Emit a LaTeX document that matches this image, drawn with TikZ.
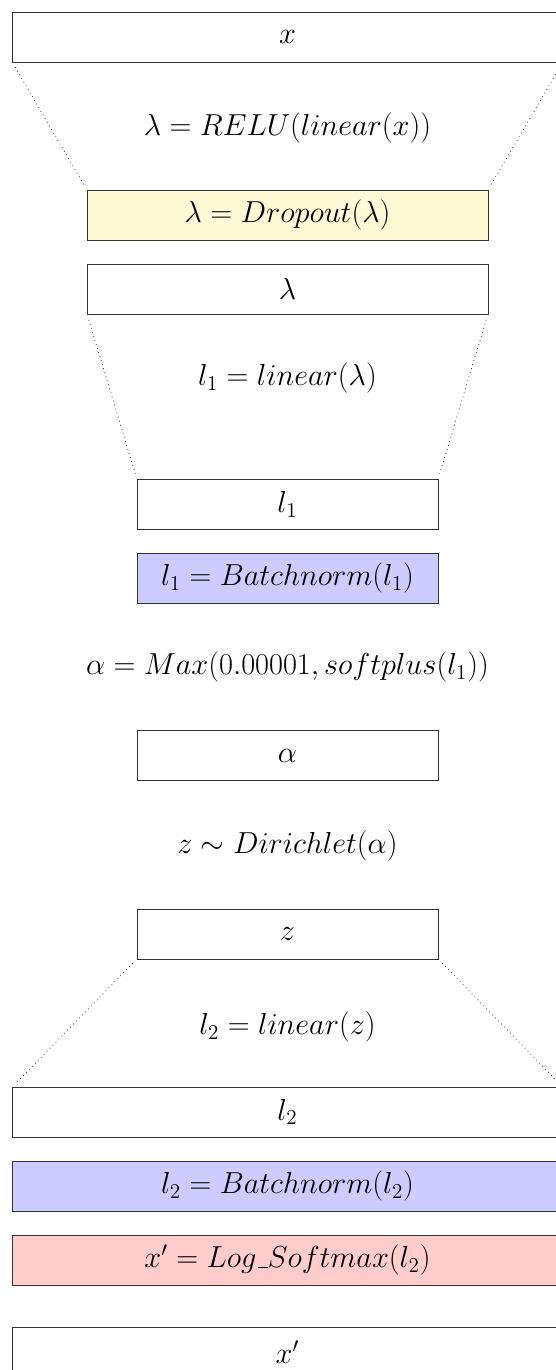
\documentclass[tikz,border=0pt]{standalone}
\usepackage{amsmath}
\definecolor{dropfill}{RGB}{255,249,214}
\definecolor{bnfill}{RGB}{204,204,255}
\definecolor{smfill}{RGB}{255,204,204}
\newcommand{\myus}{\kern.06em\vbox{\hrule width.3em}}
\begin{document}
\begin{tikzpicture}[x=0.02cm,y=-0.02cm,
  every node/.style={font=\fontsize{17.28}{21}\selectfont},
  layer/.style={draw=black!80, line width=0.5pt, minimum height=1cm, inner sep=0pt, outer sep=0pt},
  wide/.style={layer, minimum width=11.02cm},
  mid/.style={layer, minimum width=8.02cm},
  narrow/.style={layer, minimum width=6.02cm},
  op/.style={inner sep=0pt},
  fan/.style={dotted, line width=0.4pt, shorten <=3.5pt, shorten >=3.5pt}]
\useasboundingbox (0,0) rectangle (555,1370);
\node[wide] (x) at (287.5,37) {$x$};
\node[op] (relu) at (287.5,128) {$\lambda = RELU(linear(x))$};
\node[mid, fill=dropfill] (drop) at (287.5,215) {$\lambda = Dropout(\lambda)$};
\node[mid] (lam) at (287.5,289) {$\lambda$};
\node[op] (lin1) at (287.5,378) {$l_1 = linear(\lambda)$};
\node[narrow] (l1) at (287.5,504.5) {$l_1$};
\node[narrow, fill=bnfill] (bn1) at (287.5,578) {$l_1 = Batchnorm(l_1)$};
\node[op] (alphaop) at (287.5,667) {$\alpha = Max(0.00001, softplus(l_1))$};
\node[narrow] (alpha) at (287.5,755.5) {$\alpha$};
\node[op] (dir) at (287.5,846) {$z \sim Dirichlet(\alpha)$};
\node[narrow] (z) at (287.5,934) {$z$};
\node[op] (lin2) at (287.5,1027) {$l_2 = linear(z)$};
\node[wide] (l2) at (287.5,1112) {$l_2$};
\node[wide, fill=bnfill] (bn2) at (287.5,1186) {$l_2 = Batchnorm(l_2)$};
\node[wide, fill=smfill] (lsm) at (287.5,1260) {$x' = Log\myus Softmax(l_2)$};
\node[wide] (xp) at (287.5,1352) {$x'$};
\draw[fan] (x.south west) -- (drop.north west);
\draw[fan] (x.south east) -- (drop.north east);
\draw[fan] (lam.south west) -- (l1.north west);
\draw[fan] (lam.south east) -- (l1.north east);
\draw[fan] (z.south west) -- (l2.north west);
\draw[fan] (z.south east) -- (l2.north east);
\end{tikzpicture}
\end{document}
